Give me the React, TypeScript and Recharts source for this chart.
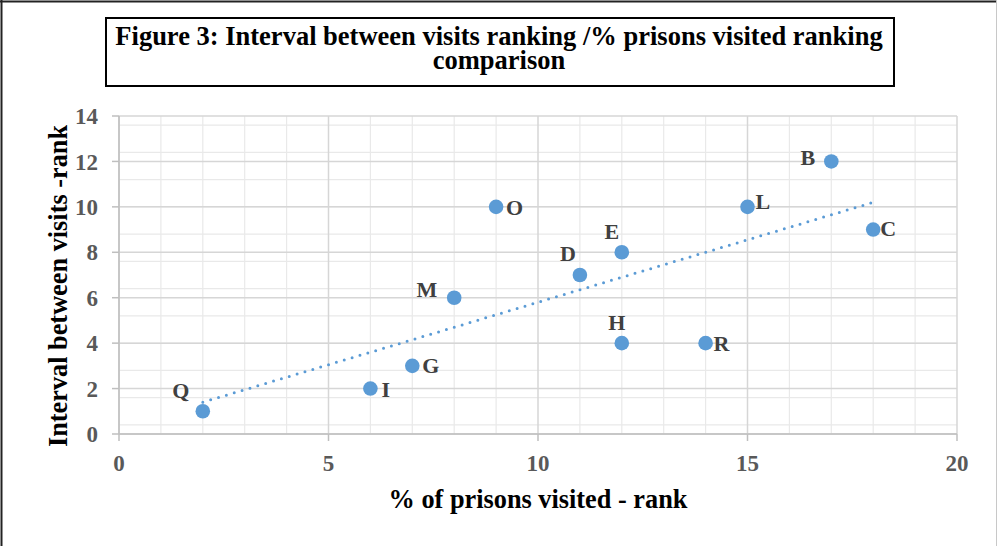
import React from 'react';
import { ScatterChart, Scatter, XAxis, YAxis, CartesianGrid, ReferenceLine, Label } from 'recharts';

// ---- data ----
const names = ['Q', 'I', 'G', 'M', 'O', 'D', 'E', 'H', 'R', 'L', 'B', 'C'];
const prisonsVisitedRank = [2, 6, 7, 8, 9, 11, 12, 12, 14, 15, 17, 18];
const intervalRank = [1, 2, 3, 6, 10, 7, 8, 4, 4, 10, 12, 9];
const trendX = [2, 18];
const trendY = [1.4, 10.2];
const xTicks = [0, 5, 10, 15, 20];
const yTicks = [0, 2, 4, 6, 8, 10, 12, 14];
const xMinorTicks = [1, 2, 3, 4, 6, 7, 8, 9, 11, 12, 13, 14, 16, 17, 18, 19];
const yMinorTicks = Array.from({ length: 35 }, (_, i) => Math.round(i * 0.4 * 10) / 10);

const titleLine1 = 'Figure 3: Interval between visits ranking /% prisons visited ranking';
const titleLine2 = 'comparison';
const xTitle = '% of prisons visited - rank';
const yTitle = 'Interval between visits -rank';

// ---- label placement (style) ----
const labelPlacement: Record<string, { anchor: 'start' | 'middle' | 'end'; dx: number; dy: number }> = {
  Q: { anchor: 'middle', dx: -22, dy: -21 },
  I: { anchor: 'start', dx: 11, dy: 1 },
  G: { anchor: 'start', dx: 10, dy: 0 },
  M: { anchor: 'end', dx: -17, dy: -8 },
  O: { anchor: 'start', dx: 10, dy: 1 },
  D: { anchor: 'middle', dx: -12, dy: -22 },
  E: { anchor: 'middle', dx: -10, dy: -21 },
  H: { anchor: 'middle', dx: -5, dy: -21 },
  R: { anchor: 'start', dx: 8, dy: 0 },
  L: { anchor: 'start', dx: 8, dy: -5 },
  B: { anchor: 'end', dx: -16, dy: -4 },
  C: { anchor: 'start', dx: 7, dy: -1 },
};

const points = names.map((name, i) => ({ name, x: prisonsVisitedRank[i], y: intervalRank[i] }));

const FONT = "'Times New Roman', 'Liberation Serif', serif";
const BLUE = '#5b9bd5';
const AXIS = '#bfbfbf';

const PointShape = (props: any) => {
  const { cx, cy, payload } = props;
  const p = labelPlacement[payload.name];
  return (
    <g>
      <circle cx={cx} cy={cy} r={7.3} fill={BLUE} />
      <text
        x={cx + p.dx}
        y={cy + p.dy}
        textAnchor={p.anchor}
        dominantBaseline="central"
        fontFamily={FONT}
        fontWeight="bold"
        fontSize={22}
        fill="#404040"
      >
        {payload.name}
      </text>
    </g>
  );
};

const tickStyle = { fontFamily: FONT, fontWeight: 'bold' as const, fontSize: 23, fill: '#595959' };

export default function App() {
  return (
    <div style={{ position: 'absolute', left: 0, top: 0, width: 997, height: 546, background: '#fff', overflow: 'hidden' }}>
      <ScatterChart width={997} height={546} margin={{ top: 116, right: 40, bottom: 32, left: 59 }}>
        <CartesianGrid
          stroke="#e9e9e9"
          strokeWidth={1.2}
          horizontalValues={yMinorTicks}
          verticalValues={xMinorTicks}
        />
        <CartesianGrid
          stroke="#d6d6d6"
          strokeWidth={1.5}
          horizontalValues={yTicks}
          verticalValues={xTicks}
        />
        <XAxis
          type="number"
          dataKey="x"
          domain={[0, 20]}
          ticks={xTicks}
          allowDataOverflow
          height={80}
          tickSize={7}
          tickMargin={14}
          axisLine={{ stroke: AXIS, strokeWidth: 1.5 }}
          tickLine={{ stroke: AXIS, strokeWidth: 1.5 }}
          tick={tickStyle}
        >
          <Label
            content={(props: any) => {
              const vb = props.viewBox;
              return (
                <text
                  x={vb.x + vb.width / 2}
                  y={508}
                  textAnchor="middle"
                  fontFamily={FONT}
                  fontWeight="bold"
                  fontSize={26.3}
                  fill="#000"
                >
                  {xTitle}
                </text>
              );
            }}
          />
        </XAxis>
        <YAxis
          type="number"
          dataKey="y"
          domain={[0, 14]}
          ticks={yTicks}
          allowDataOverflow
          width={60}
          tickSize={7}
          tickMargin={14}
          axisLine={{ stroke: AXIS, strokeWidth: 1.5 }}
          tickLine={{ stroke: AXIS, strokeWidth: 1.5 }}
          tick={tickStyle}
        >
          <Label
            content={() => (
              <text
                x={58}
                y={286}
                transform="rotate(-90 58 286)"
                textAnchor="middle"
                dominantBaseline="central"
                fontFamily={FONT}
                fontWeight="bold"
                fontSize={26.3}
                fill="#000"
              >
                {yTitle}
              </text>
            )}
          />
        </YAxis>
        <Scatter data={points} shape={PointShape} isAnimationActive={false} />
        <ReferenceLine
          segment={[
            { x: trendX[0], y: trendY[0] },
            { x: trendX[1], y: trendY[1] },
          ]}
          stroke={BLUE}
          strokeWidth={3}
          strokeDasharray="0 8.2"
          strokeLinecap="round"
          ifOverflow="visible"
        />
      </ScatterChart>
      <svg
        width={997}
        height={546}
        style={{ position: 'absolute', left: 0, top: 0, pointerEvents: 'none' }}
      >
        <line x1={1.5} y1={0} x2={1.5} y2={546} stroke="#222" strokeWidth={2} />
        <line x1={0} y1={1.5} x2={997} y2={1.5} stroke="#222" strokeWidth={2} />
        <line x1={996.5} y1={0} x2={996.5} y2={546} stroke="#c8c8c8" strokeWidth={1} />
        <rect x={106} y={18} width={788} height={68} fill="#fff" stroke="#000" strokeWidth={2} />
        <text x={499} y={45} textAnchor="middle" fontFamily={FONT} fontWeight="bold" fontSize={26.5} fill="#000">
          {titleLine1}
        </text>
        <text x={499} y={69} textAnchor="middle" fontFamily={FONT} fontWeight="bold" fontSize={26.5} fill="#000">
          {titleLine2}
        </text>
      </svg>
    </div>
  );
}
